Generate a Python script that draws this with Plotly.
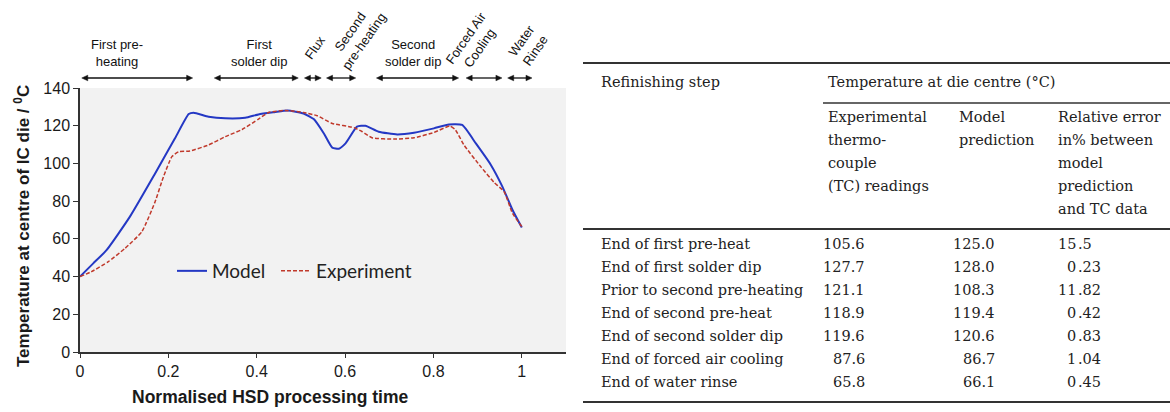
import plotly.graph_objects as go

# ---------------- data ----------------
model_x = [0, 0.03, 0.060, 0.113, 0.170, 0.215, 0.246, 0.257, 0.291, 0.329, 0.374, 0.404,
           0.440, 0.470, 0.506, 0.529, 0.552, 0.571, 0.586, 0.601, 0.627, 0.646, 0.676,
           0.718, 0.756, 0.801, 0.835, 0.865, 0.896, 0.930, 0.956, 0.979, 1.0]
model_y = [40, 47, 54, 71.8, 94.7, 113.3, 126.2, 126.9, 124.8, 123.9, 124.2, 126.0,
           127.2, 128.1, 126.5, 123.5, 115.9, 108.4, 107.8, 110.6, 119.5, 120.0, 116.8,
           115.4, 116.3, 118.6, 120.7, 120.4, 110.6, 99.2, 87.7, 75.3, 66.0]

exp_x = [0, 0.026, 0.064, 0.102, 0.140, 0.170, 0.189, 0.208, 0.223, 0.249, 0.291, 0.329,
         0.367, 0.404, 0.427, 0.465, 0.506, 0.537, 0.571, 0.620, 0.639, 0.661, 0.711,
         0.756, 0.801, 0.837, 0.850, 0.869, 0.907, 0.937, 0.960, 0.979, 1.0]
exp_y = [40, 42.6, 47.9, 55, 63.8, 79.7, 93, 103.6, 106.2, 106.6, 109.8, 114.2,
         118, 123.5, 127, 128.1, 127, 125.3, 121.2, 119, 116.8, 113.6, 112.9,
         113.6, 116.4, 119.8, 117.7, 109.8, 98.3, 90, 85, 73.5, 66.5]

phase_labels = ["First pre-<br>heating", "First<br>solder dip", "Flux", "Second<br>pre-heating",
                "Second<br>solder dip", "Forced Air<br>Cooling", "Water<br>Rinse"]
phase_start = [0.004, 0.304, 0.508, 0.558, 0.671, 0.874, 0.968]
phase_end = [0.255, 0.494, 0.546, 0.624, 0.857, 0.955, 1.023]

table_steps = ["End of first pre-heat", "End of first solder dip", "Prior to second pre-heating",
               "End of second pre-heat", "End of second solder dip", "End of forced air cooling",
               "End of water rinse"]
table_tc = ["105.6", "127.7", "121.1", "118.9", "119.6", "87.6", "65.8"]
table_model = ["125.0", "128.0", "108.3", "119.4", "120.6", "86.7", "66.1"]
table_err = ["15.5", "0.23", "11.82", "0.42", "0.83", "1.04", "0.45"]
table_head_step = "Refinishing step"
table_head_group = "Temperature at die centre (°C)"
table_head_cols = [["Experimental", "thermo-", "couple", "(TC) readings"],
                   ["Model", "prediction"],
                   ["Relative error", "in% between", "model", "prediction", "and TC data"]]

# ---------------- layout helpers ----------------
W, H = 1170, 412
ML, MR, MT, MB = 80, 0, 88, 60
PW = W - ML - MR
PH = H - MT - MB
XPX = 441.0  # pixels per x-data unit


def px(x):
    return (x - ML) / PW


def py(y):
    return (H - MB - y) / PH


SANS = "Liberation Sans, Arial, sans-serif"
SERIF = "DejaVu Serif, serif"
TXT = "#1a1a1a"

fig = go.Figure()
fig.add_trace(go.Scatter(x=model_x, y=model_y, mode="lines", name="Model", legend="legend",
                         line=dict(color="#2438c4", width=2, shape="spline", smoothing=0.5)))
fig.add_trace(go.Scatter(x=exp_x, y=exp_y, mode="lines", name="Experiment", legend="legend2",
                         line=dict(color="#c0392b", width=1.5, dash="4px,2px",
                                   shape="spline", smoothing=0.5)))

annotations = []
shapes = []

# phase arrows (double-headed) and labels
ay_p = py(78)
hx = 6 / XPX
hy = 2.8 / PH
for x0, x1 in zip(phase_start, phase_end):
    shapes.append(dict(type="line", xref="x", yref="paper", x0=x0 + hx * 0.5, x1=x1 - hx * 0.5,
                       y0=ay_p, y1=ay_p, line=dict(color="#111", width=1.3)))
    shapes.append(dict(type="path", xref="x", yref="paper",
                       path=f"M {x0},{ay_p} L {x0 + hx},{ay_p + hy} L {x0 + hx},{ay_p - hy} Z",
                       fillcolor="#111", line=dict(color="#111", width=0.5)))
    shapes.append(dict(type="path", xref="x", yref="paper",
                       path=f"M {x1},{ay_p} L {x1 - hx},{ay_p + hy} L {x1 - hx},{ay_p - hy} Z",
                       fillcolor="#111", line=dict(color="#111", width=0.5)))

label_pos = [(0.084, 53, 0), (0.406, 53, 0), (0.531, 47, -55), (0.628, 36, -55),
             (0.753, 53, 0), (0.889, 43, -55), (1.016, 45, -55)]
for lab, (lx, ly, ang) in zip(phase_labels, label_pos):
    annotations.append(dict(x=lx, y=py(ly), xref="x", yref="paper", text=lab,
                            showarrow=False, textangle=ang, align="center",
                            font=dict(family=SANS, size=13, color="#111"),
                            xanchor="center", yanchor="middle"))

# axis titles
annotations.append(dict(x=px(270), y=py(397), xref="paper", yref="paper",
                        text="<b>Normalised HSD processing time</b>", showarrow=False,
                        font=dict(family=SANS, size=17.5, color=TXT),
                        xanchor="center", yanchor="middle"))
annotations.append(dict(x=px(22), y=py(226), xref="paper", yref="paper",
                        text="<b>Temperature at centre of IC die / <sup>0</sup>C</b>",
                        showarrow=False, textangle=-90,
                        font=dict(family=SANS, size=17, color=TXT),
                        xanchor="center", yanchor="middle"))

# ---------------- table ----------------
tfont = dict(family=SERIF, size=14.5, color="#222")


def rule(x0, x1, y, w):
    shapes.append(dict(type="line", xref="paper", yref="paper", x0=px(x0), x1=px(x1),
                       y0=py(y), y1=py(y), line=dict(color="#333", width=w)))


def txt(x, y, s, anchor="left", xshift=0):
    annotations.append(dict(x=px(x), y=py(y), xref="paper", yref="paper", text=s,
                            showarrow=False, font=tfont, xanchor=anchor, yanchor="middle",
                            xshift=xshift))


rule(583, 1170, 63, 2)
rule(823, 1170, 103, 1.3)
rule(583, 1170, 229, 2)
rule(583, 1170, 402, 2)

txt(599, 82, table_head_step)
txt(826, 82, table_head_group)
for hxp, lines in zip([826, 957, 1056], table_head_cols):
    for k, line in enumerate(lines):
        txt(hxp, 117 + 23 * k, line)

row_y0, row_dy = 244, 23
for i, (s, tc, m, e) in enumerate(zip(table_steps, table_tc, table_model, table_err)):
    yy = row_y0 + i * row_dy
    txt(599, yy, s)
    txt(867, yy, tc, "right")
    txt(997, yy, m, "right")
    ip, fp = e.split(".")
    txt(1077, yy, ip, "right", 1)
    txt(1077, yy, "." + fp, "left", -1)

legend_common = dict(orientation="h", y=py(271), xanchor="left", yanchor="middle",
                     bgcolor="rgba(0,0,0,0)",
                     font=dict(family="Lato, sans-serif", size=19, color="#222"))

fig.update_layout(
    width=W, height=H,
    margin=dict(l=ML, r=MR, t=MT, b=MB, pad=0),
    paper_bgcolor="white",
    plot_bgcolor="#f2f2f2",
    showlegend=True,
    legend=dict(x=px(172), **legend_common),
    legend2=dict(x=px(276), **legend_common),
    xaxis=dict(domain=[0, px(566)], range=[0, 1.1], dtick=0.2, tick0=0,
               showgrid=False, zeroline=False, showline=True, linecolor="#333", linewidth=1.5,
               ticks="outside", ticklen=4, tickcolor="#333", tickwidth=1,
               tickfont=dict(family=SANS, size=16, color=TXT), fixedrange=True),
    yaxis=dict(range=[0, 140], dtick=20, showgrid=False, zeroline=False, showline=True,
               linecolor="#333", linewidth=1.5, ticks="outside", ticklen=5, tickcolor="#333",
               tickwidth=1, tickfont=dict(family=SANS, size=16, color=TXT), fixedrange=True),
    annotations=annotations,
    shapes=shapes,
)

fig.write_html("out.html", config={"displayModeBar": False},
               post_script="document.body.style.margin='0px';")
